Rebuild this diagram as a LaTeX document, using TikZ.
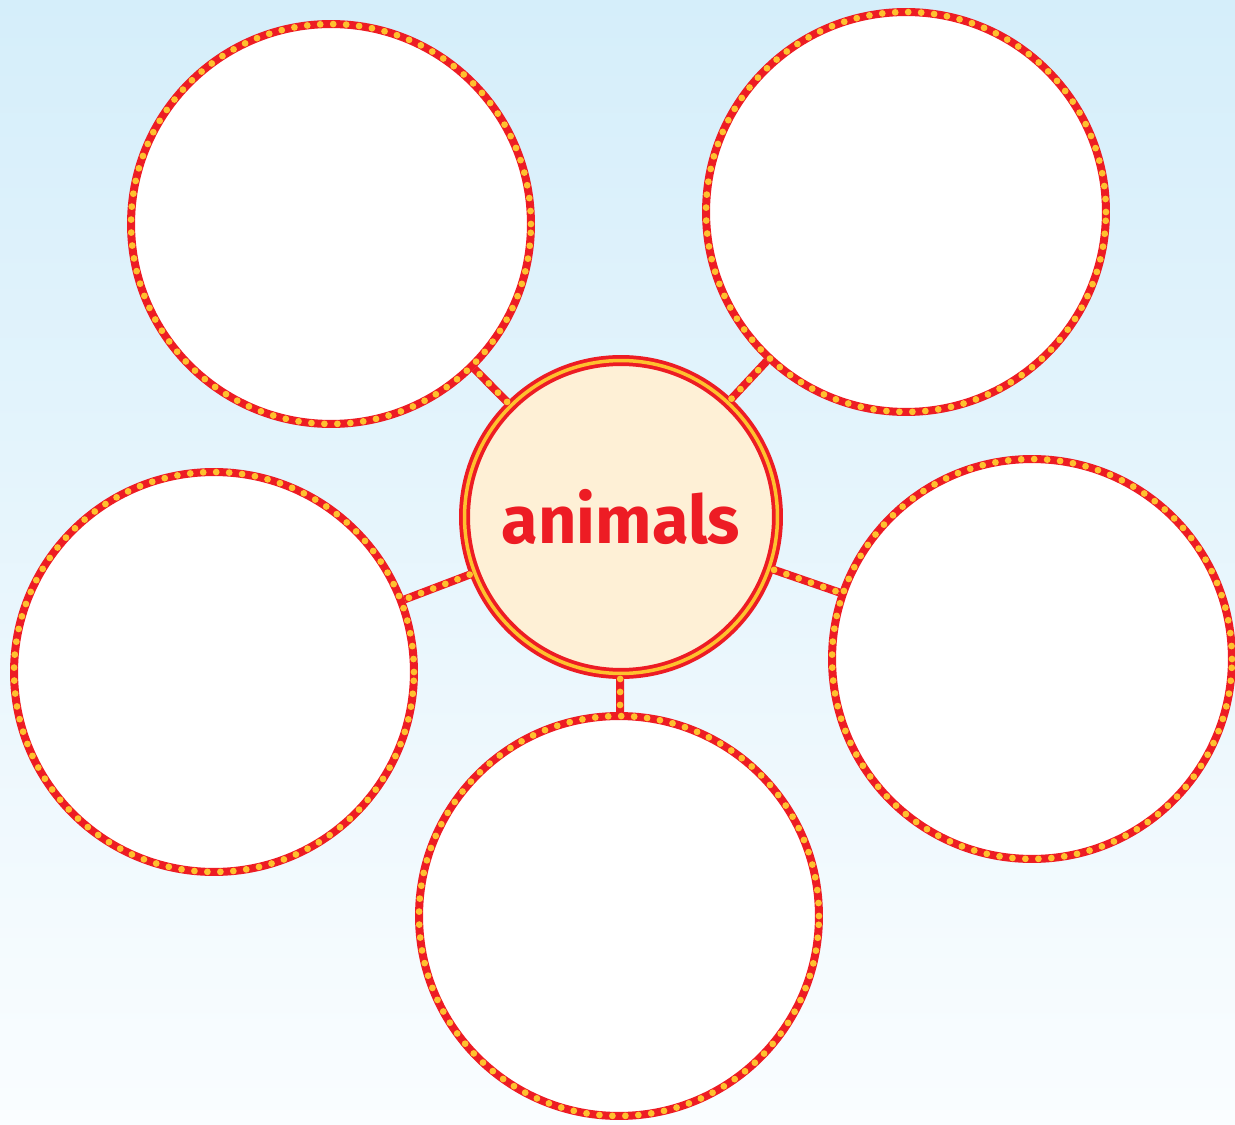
\documentclass[tikz,border=0pt]{standalone}
\usepackage{fontspec}
\setmainfont{Fira Sans}
\definecolor{webred}{HTML}{ED1C24}
\definecolor{webdot}{HTML}{FEC12E}
\definecolor{topicfill}{HTML}{FEF0D6}
\definecolor{skytop}{HTML}{D5EEFA}
\definecolor{skybot}{HTML}{FAFDFF}
\tikzset{
  dotted rim/.style={postaction={draw=webdot,line width=0.135cm,line cap=round,dash pattern=on 0pt off 0.26cm}},
  bubble/.style={circle,minimum size=8cm,inner sep=0pt,fill=white,draw=webred,line width=0.16cm,dotted rim},
  topic/.style={circle,minimum size=6.26cm,inner sep=0pt,fill=topicfill,draw=webred,line width=0.22cm,
    postaction={draw=webdot,line width=0.07cm},font=\bfseries\fontsize{38}{42}\selectfont,text=webred},
  link/.style={draw=webred,line width=0.16cm,dotted rim}
}
\begin{document}
\begin{tikzpicture}[x=0.02cm,y=-0.02cm]
\shade[top color=skytop,bottom color=skybot] (0,0) rectangle (1235,1125);
\useasboundingbox (0,0) rectangle (1235,1125);

% centre and the five bubbles
\node[topic] (animals) at (621,517) {animals};
\node[bubble] (upleft) at (331,224) {};
\node[bubble] (upright) at (906,212) {};
\node[bubble] (left) at (214,672) {};
\node[bubble] (right) at (1032,659) {};
\node[bubble] (down) at (619,916) {};

\draw[link] (animals) -- (upleft);
\draw[link] (animals) -- (upright);
\draw[link] (animals) -- (left);
\draw[link] (animals) -- (right);
\draw[link] (animals) -- (down);
\end{tikzpicture}
\end{document}
